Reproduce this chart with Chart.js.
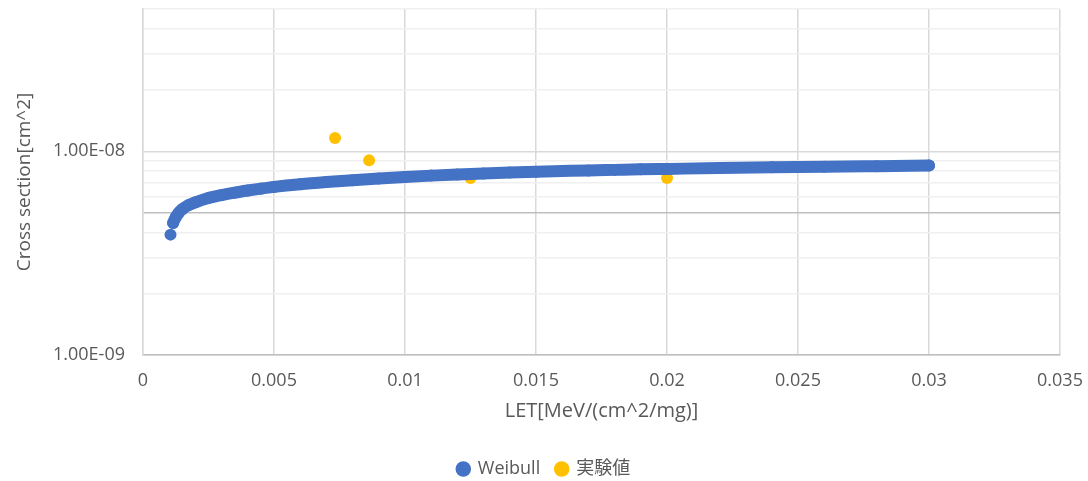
<!DOCTYPE html>
<html>
<head>
<meta charset="utf-8">
<script src="https://cdn.jsdelivr.net/npm/chart.js@4"></script>
<style>
  html, body { margin: 0; padding: 0; background: #fff; }
  #wrap { width: 1088px; height: 481px; }
</style>
</head>
<body>
<div id="wrap"><canvas id="chart"></canvas></div>
<script>
// Weibull fit curve (LET, cross section)
const weibullLet = [0.00105, 0.00115, 0.00125, 0.00135, 0.0015, 0.00175, 0.002, 0.0025, 0.003, 0.0035,
  0.004, 0.0045, 0.005, 0.006, 0.007, 0.008, 0.009, 0.01, 0.011, 0.012, 0.013, 0.014, 0.015,
  0.016, 0.017, 0.018, 0.019, 0.02, 0.022, 0.024, 0.026, 0.028, 0.03];
const weibullSigma = [3.9e-9, 4.45e-9, 4.75e-9, 4.97e-9, 5.2e-9, 5.45e-9, 5.62e-9, 5.9e-9, 6.1e-9, 6.27e-9,
  6.42e-9, 6.56e-9, 6.69e-9, 6.9e-9, 7.07e-9, 7.22e-9, 7.36e-9, 7.49e-9, 7.6e-9, 7.7e-9, 7.79e-9, 7.87e-9, 7.94e-9,
  8.0e-9, 8.06e-9, 8.11e-9, 8.16e-9, 8.2e-9, 8.28e-9, 8.35e-9, 8.41e-9, 8.46e-9, 8.51e-9];

// measured points (実験値)
const expLet = [0.00733, 0.00863, 0.0125, 0.02];
const expSigma = [1.163e-8, 9.03e-9, 7.4e-9, 7.4e-9];

// y ticks: decade marks plus minor steps
const yTicks = [1e-9, 2e-9, 3e-9, 4e-9, 5e-9, 6e-9, 7e-9, 8e-9, 9e-9, 1e-8, 2e-8, 3e-8, 4e-8, 5e-8];
const yLabelled = [1e-9, 1e-8];

const toPoints = (xs, ys) => xs.map((x, i) => ({ x: x, y: ys[i] }));
const same = (a, b) => Math.abs(a - b) / b < 1e-6;

const FONT = '"Open Sans", "Noto Sans CJK JP", sans-serif';
const GREY = '#595959';

const ctx = document.querySelector('#chart').getContext('2d');
const chart = new Chart(ctx, {
  type: 'scatter',
  data: {
    datasets: [
      {
        label: 'Weibull',
        data: toPoints(weibullLet, weibullSigma),
        showLine: true,
        borderColor: '#4472C4',
        backgroundColor: '#4472C4',
        borderWidth: 12,
        borderCapStyle: 'round',
        borderJoinStyle: 'round',
        cubicInterpolationMode: 'monotone',
        pointRadius: 6,
        pointHoverRadius: 6,
        pointBorderWidth: 0,
        // first point stands a little apart from the band
        segment: {
          borderColor: c => c.p0DataIndex === 0 ? 'rgba(0,0,0,0)' : undefined
        }
      },
      {
        label: '実験値',
        data: toPoints(expLet, expSigma),
        backgroundColor: '#FFC000',
        borderColor: '#FFC000',
        pointRadius: 6,
        pointHoverRadius: 6,
        pointBorderWidth: 0
      }
    ]
  },
  options: {
    responsive: true,
    maintainAspectRatio: false,
    animation: false,
    layout: { padding: { top: 9, right: 0, left: 0, bottom: -7 } },
    plugins: {
      tooltip: { enabled: false },
      legend: {
        position: 'bottom',
        labels: {
          usePointStyle: true,
          pointStyle: 'circle',
          boxWidth: 11,
          boxHeight: 11,
          padding: 16,
          color: GREY,
          font: { family: FONT, size: 18 }
        }
      }
    },
    scales: {
      x: {
        type: 'linear',
        min: 0,
        max: 0.035,
        ticks: {
          stepSize: 0.005,
          padding: 15,
          color: GREY,
          font: { family: FONT, size: 18 },
          callback: v => String(Number(v.toFixed(3)))
        },
        grid: { color: '#D9D9D9', lineWidth: 1.5, drawTicks: false },
        border: { color: '#BFBFBF', width: 1.5 },
        title: {
          display: true,
          text: 'LET[MeV/(cm^2/mg)]',
          color: GREY,
          font: { family: FONT, size: 20 },
          padding: { top: 0, bottom: 21 }
        },
        afterFit: s => {
          s.height = 89;
          s.paddingLeft = 0;
          s.paddingRight = 28;
        }
      },
      y: {
        type: 'logarithmic',
        min: 1e-9,
        max: 5e-8,
        afterBuildTicks: s => { s.ticks = yTicks.map(v => ({ value: v })); },
        ticks: {
          padding: 18,
          autoSkip: false,
          color: GREY,
          font: { family: FONT, size: 18 },
          callback: v => yLabelled.some(t => same(v, t)) ? v.toExponential(2).toUpperCase().replace(/E-(\d)$/, 'E-0$1') : ''
        },
        grid: {
          drawTicks: false,
          lineWidth: 1.5,
          color: c => {
            const v = c.tick ? c.tick.value : 0;
            if (same(v, 5e-9)) return '#BFBFBF';
            if (yLabelled.some(t => same(v, t))) return '#D9D9D9';
            return '#F0F0F0';
          }
        },
        border: { color: '#D9D9D9', width: 1.5 },
        title: {
          display: true,
          text: 'Cross section[cm^2]',
          color: GREY,
          font: { family: FONT, size: 19 },
          padding: { top: 13, bottom: 0 }
        },
        afterFit: s => {
          s.width = 143;
          s.paddingTop = 0;
          s.paddingBottom = 0;
        }
      }
    }
  }
});
</script>
</body>
</html>
